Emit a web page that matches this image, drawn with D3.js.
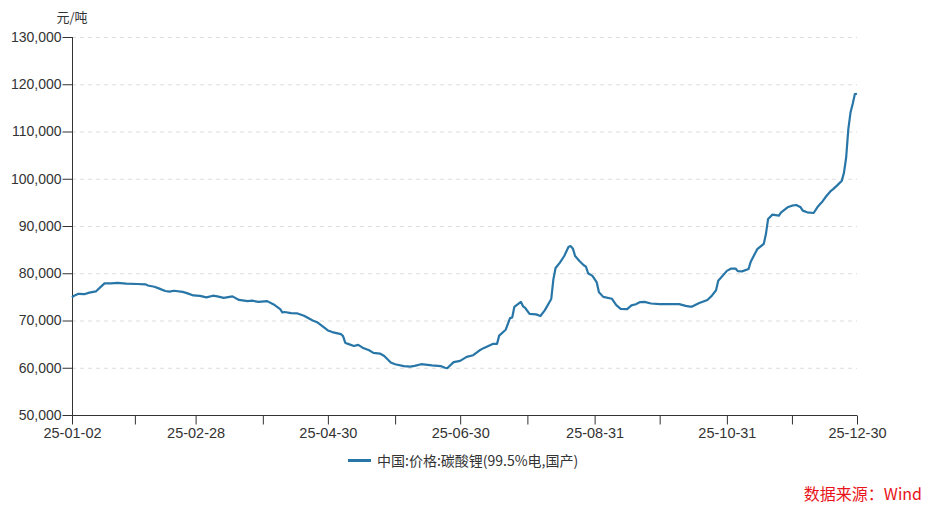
<!DOCTYPE html>
<html>
<head>
<meta charset="utf-8">
<script src="https://cdn.jsdelivr.net/npm/d3@7/dist/d3.min.js"></script>
<style>
  html, body { margin: 0; padding: 0; background: #fff; }
  svg { display: block; font-family: "Noto Sans CJK SC", "Noto Sans", sans-serif; }
</style>
</head>
<body>
<svg id="chart" width="931" height="509"></svg>
<script>
const dates = [
  "2025-01-02","2025-01-03","2025-01-05","2025-01-08","2025-01-10","2025-01-13","2025-01-15","2025-01-17",
  "2025-01-20","2025-01-23","2025-01-27","2025-02-01","2025-02-05","2025-02-06","2025-02-09","2025-02-11",
  "2025-02-14","2025-02-16","2025-02-18","2025-02-22","2025-02-24","2025-02-27","2025-03-02","2025-03-05",
  "2025-03-08","2025-03-10","2025-03-13","2025-03-17","2025-03-20","2025-03-24","2025-03-26","2025-03-29",
  "2025-04-02","2025-04-05","2025-04-08","2025-04-09","2025-04-10","2025-04-13","2025-04-16","2025-04-19",
  "2025-04-23","2025-04-25","2025-04-27","2025-04-30","2025-05-02","2025-05-06","2025-05-07","2025-05-08",
  "2025-05-09","2025-05-12","2025-05-14","2025-05-16","2025-05-19","2025-05-21","2025-05-24","2025-05-26",
  "2025-05-29","2025-05-31","2025-06-04","2025-06-07","2025-06-09","2025-06-12","2025-06-15","2025-06-17",
  "2025-06-21","2025-06-23","2025-06-24","2025-06-27","2025-06-30","2025-07-03","2025-07-06","2025-07-09",
  "2025-07-11","2025-07-15","2025-07-17","2025-07-18","2025-07-21","2025-07-23","2025-07-24","2025-07-25",
  "2025-07-28","2025-07-29","2025-07-30","2025-08-01","2025-08-04","2025-08-06","2025-08-08","2025-08-11",
  "2025-08-12","2025-08-13","2025-08-15","2025-08-17","2025-08-19","2025-08-20","2025-08-21","2025-08-22",
  "2025-08-24","2025-08-26","2025-08-27","2025-08-28","2025-08-30","2025-09-01","2025-09-02","2025-09-04",
  "2025-09-08","2025-09-10","2025-09-12","2025-09-15","2025-09-17","2025-09-19","2025-09-21","2025-09-23",
  "2025-09-26","2025-09-30","2025-10-05","2025-10-09","2025-10-12","2025-10-14","2025-10-15","2025-10-18",
  "2025-10-22","2025-10-24","2025-10-26","2025-10-27","2025-10-31","2025-11-02","2025-11-04","2025-11-05",
  "2025-11-07","2025-11-10","2025-11-11","2025-11-14","2025-11-17","2025-11-18","2025-11-19","2025-11-21",
  "2025-11-24","2025-11-25","2025-11-28","2025-11-30","2025-12-02","2025-12-04","2025-12-05","2025-12-07",
  "2025-12-10","2025-12-12","2025-12-13","2025-12-14","2025-12-16","2025-12-18","2025-12-19","2025-12-21",
  "2025-12-23","2025-12-24","2025-12-25","2025-12-26","2025-12-27","2025-12-28","2025-12-29","2025-12-30"
];
const prices = [
  74900,75250,75650,75600,75900,76150,77000,77850,
  77850,77950,77800,77730,77650,77400,77150,76800,
  76250,76100,76300,76050,75800,75300,75200,74900,
  75250,75100,74800,75100,74350,74100,74200,73950,
  74100,73400,72400,71700,71800,71550,71500,71000,
  70000,69650,68950,67900,67550,67130,66700,65300,
  65100,64600,64850,64250,63700,63150,63000,62500,
  61100,60750,60350,60250,60400,60750,60600,60500,
  60350,60000,59900,61200,61450,62300,62650,63700,
  64200,65050,65050,66800,68050,70500,70650,72900,
  73950,73000,72650,71400,71300,70950,72150,74550,
  78750,81100,82250,83650,85600,85750,85200,83650,
  82600,81700,81400,80000,79450,78050,76000,75000,
  74600,73250,72450,72400,73200,73450,73900,73950,
  73600,73460,73460,73460,73100,72950,72950,73650,
  74350,75200,76400,78400,80500,81000,81000,80450,
  80400,80900,82450,85100,86200,88300,91500,92400,
  92200,92900,93950,94300,94450,93950,93250,92900,
  92750,94150,94650,95150,96400,97450,97800,98650,
  99600,101300,104500,110500,114000,115800,117900,118000
];
const seriesName = "中国:价格:碳酸锂(99.5%电,国产)";
const unitLabel = "元/吨";
const sourceLabel = "数据来源：Wind";
const xTickDates = ["2025-01-02","2025-01-31","2025-02-28","2025-03-31","2025-04-30","2025-05-31",
  "2025-06-30","2025-07-31","2025-08-31","2025-09-30","2025-10-31","2025-11-30","2025-12-30"];
const xTickLabels = ["25-01-02","","25-02-28","","25-04-30","","25-06-30","","25-08-31","","25-10-31","","25-12-30"];
const yTicks = [50000,60000,70000,80000,90000,100000,110000,120000,130000];

(function () {
const parse = d3.timeParse("%Y-%m-%d");
const data = dates.map((d, i) => ({ date: parse(d), value: prices[i] }));

const svg = d3.select("#chart");
const mLeft = 72, mRight = 857, mTop = 37, mBottom = 415;

const x = d3.scaleTime().domain([parse(dates[0]), parse(dates[dates.length - 1])]).range([mLeft, mRight]);
const y = d3.scaleLinear().domain([50000, 130000]).range([mBottom, mTop]);

// gridlines
svg.append("g").selectAll("line").data(yTicks.slice(1)).join("line")
  .attr("x1", mLeft).attr("x2", mRight)
  .attr("y1", d => y(d) + 0.5).attr("y2", d => y(d) + 0.5)
  .attr("stroke", "#dcdcdc").attr("stroke-width", 1).attr("stroke-dasharray", "4,4");

// y axis
const yAxis = svg.append("g").attr("transform", `translate(${mLeft + 0.5},0)`)
  .call(d3.axisLeft(y).tickValues(yTicks).tickSize(10).tickPadding(1).tickFormat(d3.format(",")));
yAxis.select(".domain").attr("stroke", "#333").attr("d", `M0,${mTop}V${mBottom}`);
yAxis.selectAll(".tick line").attr("stroke", "#333");
yAxis.selectAll("text").attr("fill", "#333").style("font-size", "14px");

// x axis
const xTickParsed = xTickDates.map(parse);
const xAxis = svg.append("g").attr("transform", `translate(0,${mBottom + 0.5})`)
  .call(d3.axisBottom(x).tickValues(xTickParsed).tickSize(9).tickPadding(3)
    .tickFormat((d, i) => xTickLabels[i]));
xAxis.select(".domain").attr("stroke", "#333").attr("d", `M${mLeft},0H${mRight}`);
xAxis.selectAll(".tick line").attr("stroke", "#333");
xAxis.selectAll("text").attr("fill", "#333").style("font-size", "14.5px");

// unit label
svg.append("text").attr("x", mLeft).attr("y", 22).attr("text-anchor", "middle")
  .attr("fill", "#333").style("font-size", "13px").text(unitLabel);

// line
svg.append("path").datum(data)
  .attr("fill", "none").attr("stroke", "#2876a7").attr("stroke-width", 2.2)
  .attr("stroke-linejoin", "round")
  .attr("d", d3.line().x(d => x(d.date)).y(d => y(d.value)));

// legend
svg.append("line").attr("x1", 348).attr("x2", 371).attr("y1", 460.5).attr("y2", 460.5)
  .attr("stroke", "#2876a7").attr("stroke-width", 3);
svg.append("text").attr("x", 377).attr("y", 465.5).attr("fill", "#333")
  .style("font-size", "14px").text(seriesName);

// source
svg.append("text").attr("x", 922).attr("y", 500).attr("text-anchor", "end")
  .attr("fill", "#e8141a").style("font-size", "16px").text(sourceLabel);
})();
</script>
</body>
</html>
